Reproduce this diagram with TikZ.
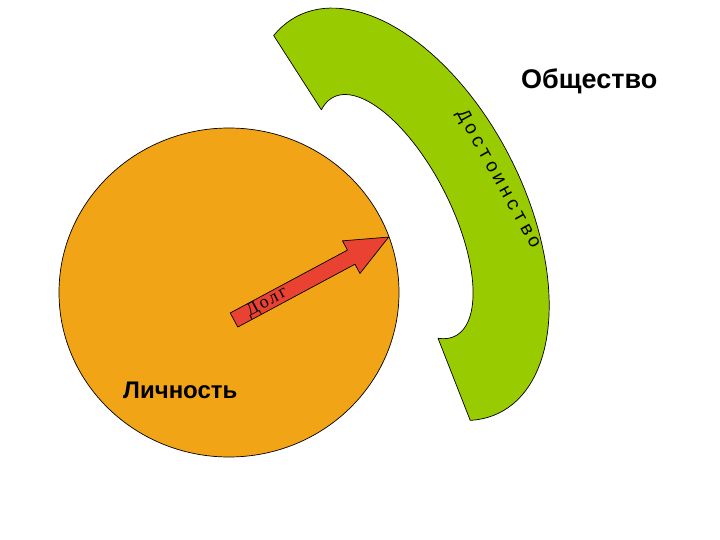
\documentclass[tikz,border=0pt]{standalone}
\usepackage{fontspec}
\setmainfont{Liberation Sans}
\newfontfamily\serifcyr{Liberation Serif}
\newfontfamily\monocyr{Liberation Mono}
\definecolor{orangefill}{RGB}{241,164,21}
\definecolor{greenfill}{RGB}{153,204,0}
\definecolor{redfill}{RGB}{234,66,50}
\begin{document}
\begin{tikzpicture}[x=1pt,y=-1pt,
  outline/.style={draw=black, line width=0.7pt, line join=round},
  biglabel/.style={font=\fontsize{#1}{30}\selectfont\bfseries, inner sep=0pt},
  arctext/.style={font=\monocyr\fontsize{19}{21}\selectfont, inner sep=0pt, anchor=base, rotate=-61},
  arrowtext/.style={font=\serifcyr\fontsize{18}{20}\selectfont, inner sep=0pt, anchor=base, rotate=28.2}]
\useasboundingbox[fill=white] (0,0) rectangle (720,540);

% green band (Общество): outer and inner elliptical arcs, tilted along the band
\filldraw[outline, fill=greenfill]
  plot[domain=193.9:-13.9, samples=80, variable=\t]
    ({398.7 + 222.5*cos(\t)*0.455 + 125*sin(\t)*0.891},
     {214.3 + 222.5*cos(\t)*0.891 - 125*sin(\t)*0.455})
  -- plot[domain=-17:197, samples=80, variable=\t]
    ({394.3 + 134*cos(\t)*0.455 + 56*sin(\t)*0.891},
     {216.6 + 134*cos(\t)*0.891 - 56*sin(\t)*0.455})
  -- cycle;

% orange circle (Личность)
\filldraw[outline, fill=orangefill] (229,292.5) ellipse [x radius=170, y radius=164.5];

% red arrow (Долг)
\begin{scope}[shift={(234,320)}, rotate=28.2]
  \filldraw[outline, fill=redfill] (0,8) -- (133,8) -- (133,18.5) -- (175.5,0) -- (133,-18.5) -- (133,-8) -- (0,-8) -- cycle;
  \node[arrowtext] (dolg) at (37.5,4) {Д\kern2pt о\kern2pt л\kern2pt г};
\end{scope}

% Достоинство along the band
\begin{scope}[shift={(463,117)}, rotate=-61]
  \node[arctext] (dost) at (72,4) {Д\kern3pt о\kern3pt с\kern3pt т\kern3pt о\kern3pt и\kern3pt н\kern3pt с\kern3pt т\kern3pt в\kern3pt о};
\end{scope}

\node[biglabel=27, anchor=base west] (obsh) at (521,89) {Общество};
\node[biglabel=24, anchor=base west] (lich) at (123,398) {Личность};
\end{tikzpicture}
\end{document}
